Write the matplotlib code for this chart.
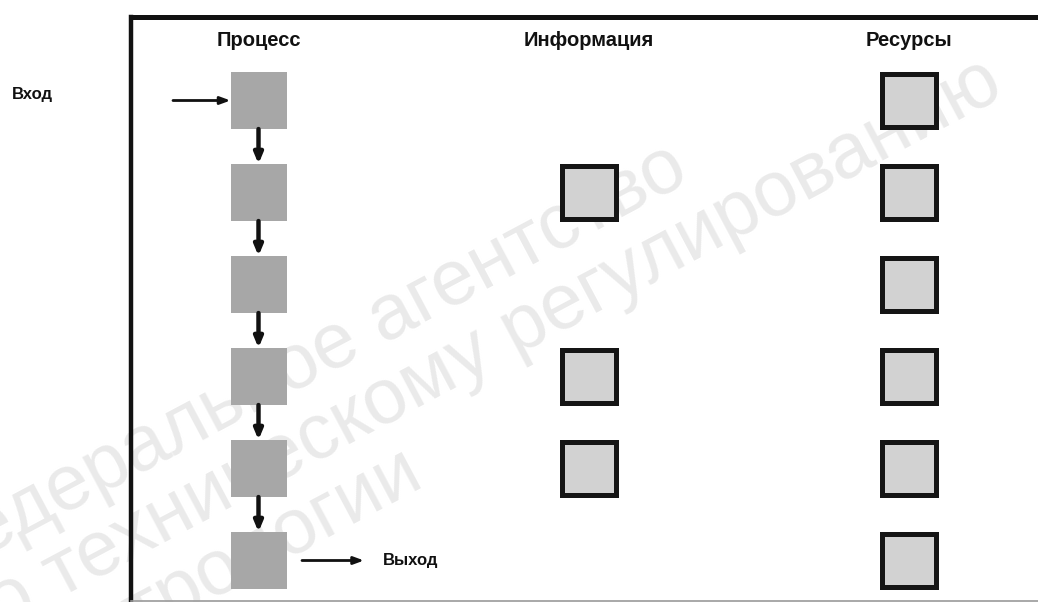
import matplotlib
matplotlib.use("Agg")
import matplotlib.pyplot as plt
from matplotlib.patches import Rectangle

# ---- data ----
columns = ["Процесс", "Информация", "Ресурсы"]
process_rows = [0, 1, 2, 3, 4, 5]
info_rows = [1, 3, 4]
resource_rows = [0, 1, 2, 3, 4, 5]
input_label = "Вход"
output_label = "Выход"
watermark_lines = ["Федеральное агентство", "по техническому регулированию", "и метрологии"]

# ---- layout (pixels) ----
W, H = 1038, 602
ROW0, ROW_STEP = 100.5, 92.0
COL_X = [258.5, 588.5, 909.0]
BOX_W = 56
BOX_H = 0.62  # in row units

fig = plt.figure(figsize=(W / 100, H / 100), dpi=100)
ax = fig.add_axes([0, 0, 1, 1])
ax.set_xlim(0, W)
ax.set_ylim((H - ROW0) / ROW_STEP, -ROW0 / ROW_STEP)
ax.axis("off")
fig.patch.set_facecolor("white")

def ypix(p):
    return (p - ROW0) / ROW_STEP

# watermark (left-aligned lines, rotated)
wm_start = [(-70, 585), (-36, 649), (-2, 713)]
for txt, (x, y) in zip(watermark_lines, wm_start):
    ax.text(x, ypix(y), txt, fontsize=56, color="#eaeaea", rotation=28,
            rotation_mode="anchor", ha="left", va="baseline",
            family="Liberation Sans", zorder=0, clip_on=True)

# frame
ax.plot([131, 131], [ypix(17), ypix(H)], color="#111111", lw=3.2, solid_capstyle="projecting", zorder=1)
ax.plot([131, W + 5], [ypix(17), ypix(17)], color="#111111", lw=3.6, solid_capstyle="projecting", zorder=1)
ax.plot([131, W + 5], [ypix(600.5), ypix(600.5)], color="#9a9a9a", lw=1.2, zorder=1)

font = dict(family="Liberation Sans", fontweight="bold", color="#111111")

# headers
for cx, name in zip(COL_X, columns):
    ax.text(cx, ypix(41), name, fontsize=14.5, ha="center", va="center", **font, zorder=3)

# process boxes
px = COL_X[0]
for r in process_rows:
    ax.add_patch(Rectangle((px - BOX_W / 2, r - BOX_H / 2), BOX_W, BOX_H,
                           facecolor="#a7a7a7", edgecolor="none", zorder=2))
# arrows between process boxes
for a, b in zip(process_rows[:-1], process_rows[1:]):
    ax.annotate("", xy=(px, b - BOX_H / 2), xytext=(px, a + BOX_H / 2),
                arrowprops=dict(arrowstyle="-|>,head_length=0.6,head_width=0.25",
                                color="#111111", lw=3.2, shrinkA=0, shrinkB=0), zorder=3)

# info / resource boxes
def framed(col, rows):
    cx = COL_X[col]
    for r in rows:
        ax.add_patch(Rectangle((cx - 27, r - 0.29), 54, 0.58,
                               facecolor="#d2d2d2", edgecolor="#151515", lw=3.6, zorder=2))

framed(1, info_rows)
framed(2, resource_rows)

# input
ax.annotate("", xy=(px - BOX_W / 2, process_rows[0]), xytext=(173, process_rows[0]),
            arrowprops=dict(arrowstyle="-|>,head_length=0.6,head_width=0.22",
                            color="#111111", lw=2, shrinkA=0, shrinkB=0), zorder=3)
ax.text(12, ypix(95), input_label, fontsize=12, ha="left", va="center", **font)

# output
last = process_rows[-1]
ax.annotate("", xy=(364, last), xytext=(302, last),
            arrowprops=dict(arrowstyle="-|>,head_length=0.6,head_width=0.22",
                            color="#111111", lw=2, shrinkA=0, shrinkB=0), zorder=3)
ax.text(383, last, output_label, fontsize=12, ha="left", va="center", **font)

fig.savefig("out.png", dpi=100, facecolor="white")
